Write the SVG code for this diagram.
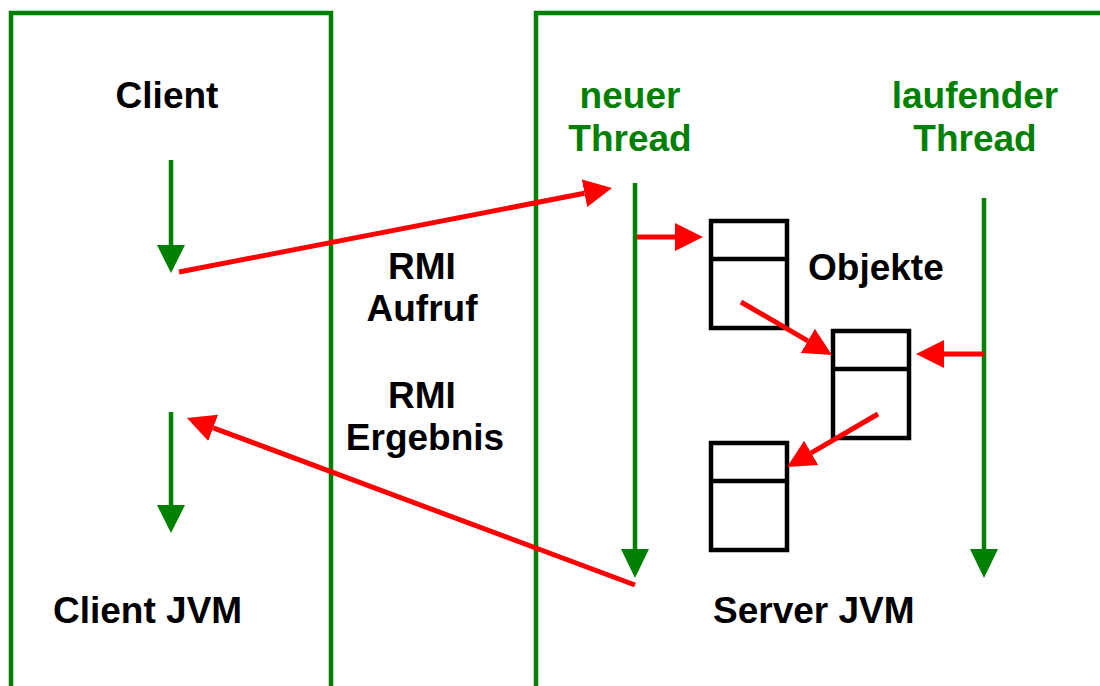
<svg xmlns="http://www.w3.org/2000/svg" width="1100" height="686" viewBox="0 0 1100 686">
<style>
.frame{fill:none;stroke:#008000;stroke-width:4.5}
.gl{stroke:#008000;stroke-width:4.5;fill:none}
.gh{fill:#008000}
.rl{stroke:#ff0000;stroke-width:5;fill:none;marker-end:url(#rh)}
.box{fill:none;stroke:#000;stroke-width:4.5}
.t{font-family:"Liberation Sans",Arial,sans-serif;font-weight:bold;font-size:37px;fill:#000}
.g{fill:#008000}
.m{text-anchor:middle}
</style>
<defs>
<marker id="rh" markerUnits="userSpaceOnUse" markerWidth="28" markerHeight="28" viewBox="0 0 28 28" refX="0" refY="14" orient="auto">
<path d="M0,0 L28,14 L0,28 z" fill="#ff0000"/>
</marker>
</defs>
<rect width="1100" height="686" fill="#fff"/>
<g id="client-jvm">
<path class="frame" d="M11,686 V13 H331 V686"/>
<text class="t m" x="167" y="108">Client</text>
<text class="t" x="53" y="623">Client JVM</text>
</g>
<g id="server-jvm">
<path class="frame" d="M536,686 V13 H1100"/>
<text class="t" x="713" y="623">Server JVM</text>
</g>
<g id="client-thread">
<line class="gl" x1="171" y1="160" x2="171" y2="250"/>
<polygon class="gh" points="157,245 185,245 171,273"/>
<line class="gl" x1="171" y1="412" x2="171" y2="510"/>
<polygon class="gh" points="157,505 185,505 171,533"/>
</g>
<g id="new-thread">
<text class="t g m" x="630" y="108">neuer</text>
<text class="t g m" x="630" y="151">Thread</text>
<line class="gl" x1="635" y1="183" x2="635" y2="555"/>
<polygon class="gh" points="621,549 649,549 635,578"/>
</g>
<g id="running-thread">
<text class="t g m" x="975" y="108">laufender</text>
<text class="t g m" x="975" y="151">Thread</text>
<line class="gl" x1="984" y1="198" x2="984" y2="555"/>
<polygon class="gh" points="970,549 998,549 984,578"/>
</g>
<g id="obj1">
<rect class="box" x="711" y="221" width="76" height="107"/>
<line class="box" x1="711" y1="259" x2="787" y2="259"/>
</g>
<g id="obj2">
<rect class="box" x="833" y="331" width="76" height="107"/>
<line class="box" x1="833" y1="369" x2="909" y2="369"/>
</g>
<g id="obj3">
<rect class="box" x="711" y="443" width="76" height="107"/>
<line class="box" x1="711" y1="481" x2="787" y2="481"/>
</g>
<g id="labels">
<text class="t" x="808" y="280">Objekte</text>
<text class="t m" x="422" y="279">RMI</text>
<text class="t m" x="422" y="321">Aufruf</text>
<text class="t m" x="422" y="408">RMI</text>
<text class="t m" x="425" y="450">Ergebnis</text>
</g>
<g id="connectors">
<line class="rl" x1="179" y1="272" x2="584.5" y2="193.3"/>
<line class="rl" x1="635" y1="585" x2="213.2" y2="427.8"/>
<line class="rl" x1="637" y1="237" x2="675" y2="237"/>
<line class="rl" x1="741" y1="302" x2="807.8" y2="340.9"/>
<line class="rl" x1="984" y1="354" x2="944" y2="354"/>
<line class="rl" x1="878" y1="414" x2="811.2" y2="452.9"/>
</g>
</svg>
